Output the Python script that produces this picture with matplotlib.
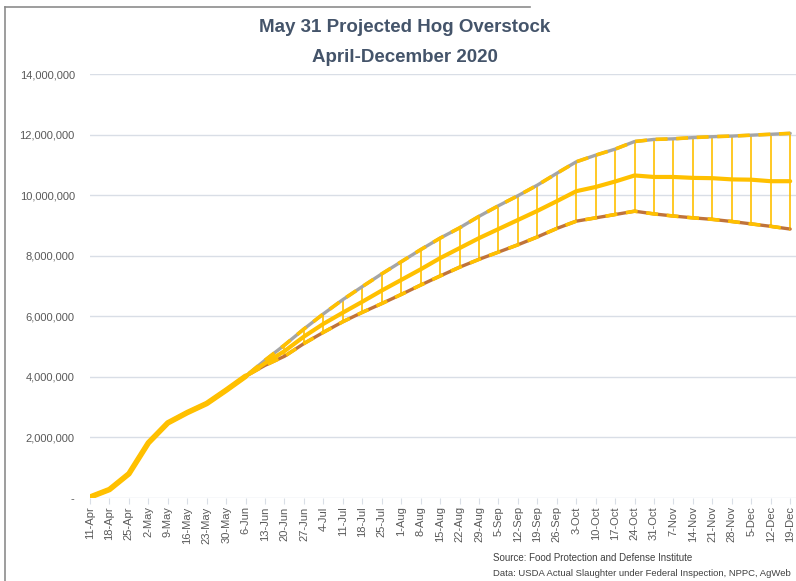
import matplotlib.pyplot as plt
import numpy as np
from matplotlib.lines import Line2D
from matplotlib.ticker import FuncFormatter

# weekly dates on the category axis
dates = ["11-Apr", "18-Apr", "25-Apr", "2-May", "9-May", "16-May", "23-May", "30-May",
         "6-Jun", "13-Jun", "20-Jun", "27-Jun", "4-Jul", "11-Jul", "18-Jul", "25-Jul",
         "1-Aug", "8-Aug", "15-Aug", "22-Aug", "29-Aug", "5-Sep", "12-Sep", "19-Sep",
         "26-Sep", "3-Oct", "10-Oct", "17-Oct", "24-Oct", "31-Oct", "7-Nov", "14-Nov",
         "21-Nov", "28-Nov", "5-Dec", "12-Dec", "19-Dec"]

# actual overstock, 11-Apr .. 30-May (millions of head)
actual = [0.03, 0.28, 0.80, 1.82, 2.48, 2.82, 3.12, 3.56]

# projections, 6-Jun .. 19-Dec (millions of head)
high = [4.02, 4.55, 5.05, 5.58, 6.08, 6.55, 6.98, 7.40, 7.80, 8.20, 8.58, 8.92, 9.30,
        9.65, 9.98, 10.33, 10.72, 11.10, 11.32, 11.52, 11.77, 11.84, 11.86, 11.90,
        11.93, 11.95, 11.98, 12.01, 12.04]
mid = [4.02, 4.45, 4.85, 5.33, 5.75, 6.12, 6.48, 6.85, 7.20, 7.55, 7.92, 8.25, 8.58,
       8.88, 9.18, 9.48, 9.80, 10.13, 10.27, 10.45, 10.65, 10.60, 10.60, 10.57,
       10.56, 10.52, 10.51, 10.46, 10.46]
low = [4.02, 4.38, 4.68, 5.10, 5.47, 5.82, 6.13, 6.42, 6.72, 7.03, 7.33, 7.62, 7.88,
       8.12, 8.36, 8.62, 8.90, 9.14, 9.25, 9.36, 9.47, 9.38, 9.31, 9.25, 9.20, 9.13,
       9.05, 8.97, 8.88]

YELLOW = "#FFC000"
GRAY = "#A5A5A5"
BROWN = "#C0733A"
TEXT = "#595959"

plt.rcParams['font.family'] = ['Liberation Sans', 'DejaVu Sans']

x_all = np.arange(len(dates))
n_act = len(actual)
x_proj = x_all[n_act:]
M = 1e6

upper = np.array(actual + high) * M
middle = np.array(actual + mid) * M
lower = np.array(actual + low) * M

fig = plt.figure(figsize=(7.96, 5.81), dpi=100)
ax = fig.add_axes([90 / 796, 83 / 581, 706 / 796, 424 / 581])

# high-low lines
ax.vlines(x_proj, lower[n_act:], upper[n_act:], color=YELLOW, lw=1.2, zorder=2)

# upper series: gray with yellow dashes
ax.plot(x_all, upper, color=GRAY, lw=2.4, zorder=3, solid_capstyle='round')
ax.plot(x_all, upper, color=YELLOW, lw=2.6, ls=(0, (3.3, 2.4)), zorder=4)
# lower series: brown with yellow dashes
ax.plot(x_all, lower, color=BROWN, lw=2.4, zorder=3, solid_capstyle='round')
ax.plot(x_all, lower, color=YELLOW, lw=2.6, ls=(0, (3.3, 2.4)), zorder=4)
# middle series
ax.plot(x_all, middle, color=YELLOW, lw=3.0, zorder=5, solid_capstyle='round')
# actual part, thick single line
ax.plot(x_all[:n_act + 1], middle[:n_act + 1], color=YELLOW, lw=4.0, zorder=6,
        solid_capstyle='round')

ax.set_xlim(0, 36.3)
ax.set_ylim(0, 14 * M)
ax.set_yticks(np.arange(0, 14.1 * M, 2 * M))
ax.yaxis.set_major_formatter(FuncFormatter(lambda v, p: "-" if v == 0 else f"{v:,.0f}"))
ax.set_xticks(x_all)
ax.set_xticklabels(dates, rotation=90)

ax.grid(axis='y', color='#D9DEE6', lw=1.0)
ax.set_axisbelow(True)
for s in ax.spines.values():
    s.set_visible(False)
ax.tick_params(axis='y', length=0, pad=11, labelsize=8, labelcolor=TEXT)
ax.tick_params(axis='x', length=4, color='#D9DEE6', pad=2, labelsize=8, labelcolor=TEXT)

fig.text(405 / 796, 1 - 28 / 581, "May 31 Projected Hog Overstock", ha='center', va='center',
         fontsize=13.5, fontweight='bold', color='#44546A')
fig.text(405 / 796, 1 - 57 / 581, "April-December 2020", ha='center', va='center',
         fontsize=13.5, fontweight='bold', color='#44546A')

fig.text(493 / 796, 1 - 558 / 581, "Source: Food Protection and Defense Institute",
         ha='left', va='center', fontsize=7.0, color='#404040')
fig.text(493 / 796, 1 - 573 / 581,
         "Data: USDA Actual Slaughter under Federal Inspection, NPPC, AgWeb",
         ha='left', va='center', fontsize=6.8, color='#404040')

# frame of the screenshot
fig.add_artist(Line2D([5 / 796, 5 / 796], [0, 1 - 7 / 581], color='#8C8C8C', lw=1.2))
fig.add_artist(Line2D([5 / 796, 530 / 796], [1 - 7 / 581, 1 - 7 / 581], color='#8C8C8C', lw=1.2))

fig.savefig("out.png", dpi=100)
